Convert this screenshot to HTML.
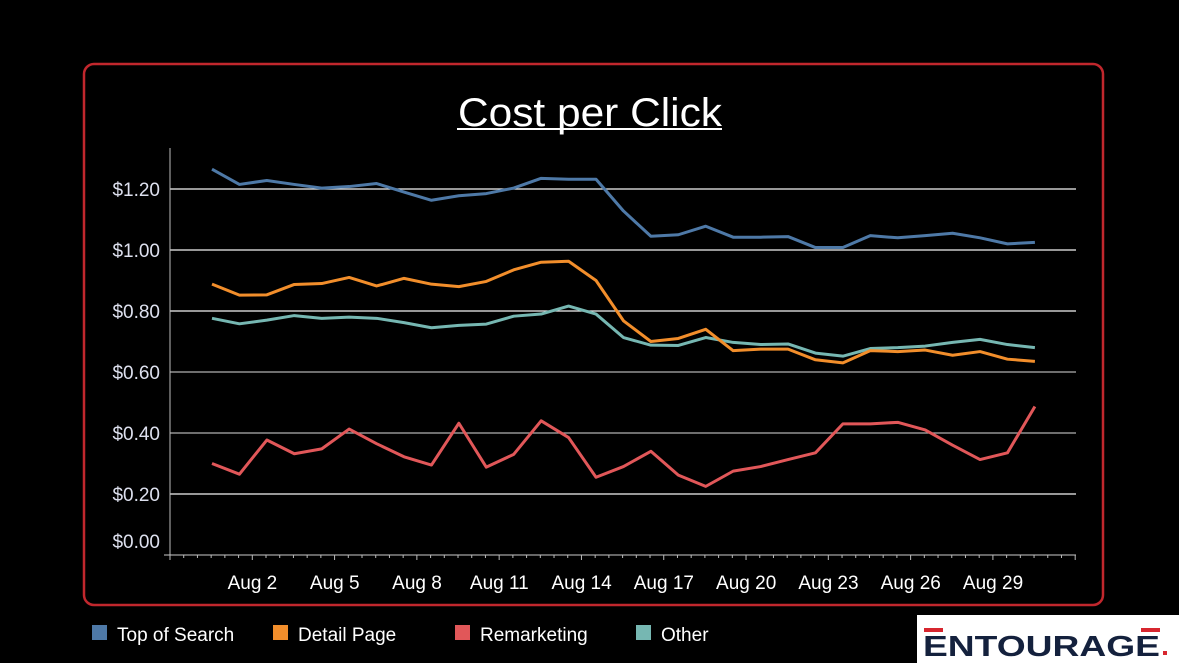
<!DOCTYPE html>
<html><head><meta charset="utf-8"><style>
html,body{margin:0;padding:0;background:#000;width:1179px;height:663px;overflow:hidden}
svg{display:block;font-family:"Liberation Sans","DejaVu Sans",sans-serif}
</style></head><body>
<svg id="chart" width="1179" height="663" viewBox="0 0 1179 663">
<rect x="84" y="64" width="1019" height="541" rx="10" fill="#000" stroke="#c1272d" stroke-width="2.5"/>
<text x="590" y="126" text-anchor="middle" fill="#fff" font-size="40" textLength="264" lengthAdjust="spacingAndGlyphs">Cost per Click</text>
<rect x="457" y="128" width="265" height="2" fill="#fff"/>
<g id="grid"></g><g id="axes"></g><g id="series"></g>
<g>
 <g><rect x="92" y="625" width="15" height="15" fill="#4e79a7"/><text x="117" y="641" fill="#fff" font-size="19">Top of Search</text></g>
 <g><rect x="273" y="625" width="15" height="15" fill="#f28e2b"/><text x="298" y="641" fill="#fff" font-size="19">Detail Page</text></g>
 <g><rect x="455" y="625" width="15" height="15" fill="#e15759"/><text x="480" y="641" fill="#fff" font-size="19">Remarketing</text></g>
 <g><rect x="636" y="625" width="15" height="15" fill="#76b7b2"/><text x="661" y="641" fill="#fff" font-size="19">Other</text></g>
</g>
<g>
 <rect x="917" y="615" width="262" height="48" fill="#fff"/>
 <rect x="924" y="628" width="19" height="4" fill="#d7262f"/>
 <rect x="1141" y="628" width="19" height="4" fill="#d7262f"/>
 <text x="923" y="656" fill="#14213d" font-size="29" font-weight="bold" textLength="237" lengthAdjust="spacingAndGlyphs">ENTOURAGE</text>
 <rect x="1163" y="651" width="4" height="4" fill="#d7262f"/>
</g>
</svg>
<script>
const days=[1,2,3,4,5,6,7,8,9,10,11,12,13,14,15,16,17,18,19,20,21,22,23,24,25,26,27,28,29,30,31];
const topOfSearch=[1.265,1.215,1.228,1.215,1.203,1.208,1.218,1.19,1.163,1.178,1.185,1.203,1.235,1.232,1.232,1.128,1.045,1.05,1.078,1.042,1.042,1.044,1.008,1.008,1.047,1.04,1.047,1.055,1.04,1.02,1.025];
const detailPage=[0.888,0.852,0.853,0.887,0.89,0.91,0.882,0.907,0.888,0.88,0.897,0.935,0.96,0.963,0.9,0.768,0.70,0.71,0.74,0.67,0.675,0.675,0.64,0.63,0.67,0.667,0.672,0.655,0.667,0.642,0.635];
const remarketing=[0.30,0.265,0.377,0.332,0.348,0.413,0.365,0.322,0.295,0.432,0.288,0.33,0.44,0.385,0.255,0.29,0.34,0.262,0.225,0.275,0.29,0.313,0.335,0.43,0.43,0.435,0.41,0.36,0.313,0.335,0.487];
const other=[0.776,0.758,0.77,0.785,0.776,0.78,0.776,0.762,0.745,0.753,0.757,0.783,0.79,0.816,0.79,0.713,0.688,0.687,0.713,0.697,0.69,0.692,0.662,0.652,0.677,0.68,0.685,0.697,0.707,0.69,0.68];
const yTicks=[0,0.2,0.4,0.6,0.8,1.0,1.2];
const yTickLabels=["$0.00","$0.20","$0.40","$0.60","$0.80","$1.00","$1.20"];
const xTickDays=[2,5,8,11,14,17,20,23,26,29];
const xTickLabels=["Aug 2","Aug 5","Aug 8","Aug 11","Aug 14","Aug 17","Aug 20","Aug 23","Aug 26","Aug 29"];

const NS="http://www.w3.org/2000/svg";
const X0=170,X1=1076,Y0=555;
function xs(d){return 212+(d-1)*27.43;}
function ys(v){return Y0-v*305;}
function mk(tag,attrs,parent){const e=document.createElementNS(NS,tag);for(const k in attrs)e.setAttribute(k,attrs[k]);parent.appendChild(e);return e;}
const grid=document.getElementById('grid'),axes=document.getElementById('axes'),ser=document.getElementById('series');
yTicks.forEach((v,i)=>{
  if(v>0){const l=mk('line',{x1:X0,x2:X1,y1:ys(v),y2:ys(v),stroke:v===0.4||v===0.6?'#b0b0b0':'#f2f2f2','stroke-width':1.3},grid);
  
  }
  const t=mk('text',{x:160,y:(v===0?ys(v)-7:ys(v)+7),'text-anchor':'end',fill:'#dde0ee','font-size':19},axes);
  t.textContent=yTickLabels[i];
  
  
});
let a=mk('line',{x1:X0,x2:X0,y1:148,y2:Y0,stroke:'#bbb','stroke-width':1},axes);


a=mk('line',{x1:X0-6,x2:X1,y1:Y0,y2:Y0,stroke:'#ccc','stroke-width':1},axes);


for(let i=0;i<=66;i++){const x=X0+i*13.715;if(x>X1+1)break;
  const tk=mk('line',{x1:x,x2:x,y1:Y0,y2:Y0+(i%6===0?5:3),stroke:'#bbb','stroke-width':1},axes);
  
  }
xTickDays.forEach((d,i)=>{
  const t=mk('text',{x:xs(d)+13,y:589,'text-anchor':'middle',fill:'#fff','font-size':19},axes);
  t.textContent=xTickLabels[i];
  
  
});
function line(vals,color,name){
  const p=mk('polyline',{points:vals.map((v,i)=>xs(days[i])+','+ys(v)).join(' '),fill:'none',stroke:color,'stroke-width':3,'stroke-linejoin':'round'},ser);
  
  
}
line(remarketing,'#e15759','line-remarketing');
line(other,'#76b7b2','line-other');
line(detailPage,'#f28e2b','line-detail-page');
line(topOfSearch,'#4e79a7','line-top-of-search');
</script>
</body></html>
